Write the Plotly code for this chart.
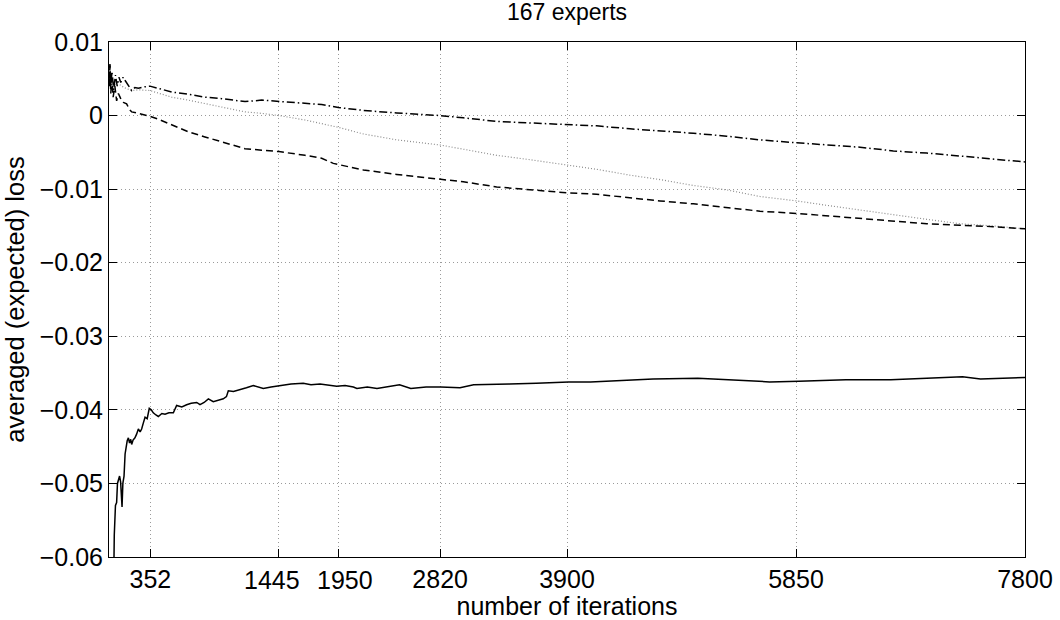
import plotly.graph_objects as go

# ---------------- data ----------------
solid_x = [38, 45, 55, 65, 72, 80, 90, 99, 105, 111, 118, 128, 137, 145, 155, 165, 175, 185, 193, 205,
           221, 235, 250, 265, 278, 292, 307, 325, 343, 360, 377, 400, 420, 450, 477, 510, 548, 576, 620,
           661, 700, 747, 775, 810, 846, 888, 930, 973, 1000, 1016, 1060, 1115, 1170, 1229, 1270, 1314,
           1380, 1456, 1550, 1654, 1720, 1797, 1870, 1939, 2010, 2081, 2111, 2200, 2282, 2380, 2474,
           2570, 2700, 2825, 2989, 3105, 3250, 3410, 3639, 3914, 4100, 4326, 4633, 5014, 5320, 5625,
           5874, 6275, 6657, 6924, 7268, 7421, 7600, 7800]
solid_y = [-0.066, -0.057, -0.053, -0.0526, -0.050, -0.0494, -0.0490, -0.0498, -0.051, -0.0532,
           -0.050, -0.049, -0.046, -0.0449, -0.0442, -0.0438, -0.0445, -0.0440, -0.0447, -0.0441,
           -0.0438, -0.0433, -0.0426, -0.0430, -0.0426, -0.0418, -0.0410, -0.0412, -0.0398, -0.0400,
           -0.0404, -0.0407, -0.0409, -0.0405, -0.0406, -0.0404, -0.0404, -0.0394, -0.0396, -0.0393,
           -0.0391, -0.0390, -0.0393, -0.0390, -0.0385, -0.0389, -0.0387, -0.0385, -0.0382, -0.0374,
           -0.0375, -0.0373, -0.0370, -0.0367, -0.0369, -0.0371, -0.0369, -0.0367, -0.0365, -0.0364,
           -0.0366, -0.0365, -0.0367, -0.0368, -0.0367, -0.0369, -0.0371, -0.0369, -0.0371, -0.0368,
           -0.0366, -0.0371, -0.0369, -0.0369, -0.0370, -0.0366, -0.0366, -0.0365, -0.0364, -0.0362,
           -0.0362, -0.0360, -0.0358, -0.0357, -0.0359, -0.0362, -0.0361, -0.0359, -0.0359, -0.0357,
           -0.0355, -0.0358, -0.0357, -0.0356]

dashdot_x = [2, 8, 15, 25, 40, 55, 70, 85, 100, 120, 136, 165, 193, 220, 250, 300, 349, 420, 534, 675,
             817, 960, 1158, 1300, 1447, 1669, 1811, 1953, 2166, 2450, 2733, 2820, 3017, 3301, 3585,
             3902, 4152, 4436, 4720, 4976, 5260, 5543, 5856, 6111, 6395, 6679, 6963, 7246, 7530, 7800]
dashdot_y = [0.0040, 0.0068, 0.0040, 0.0060, 0.0035, 0.0055, 0.0040, 0.0052, 0.0045, 0.0052, 0.0048,
             0.0041, 0.0034, 0.0038, 0.0037, 0.0039, 0.0040, 0.0037, 0.0032, 0.0029, 0.0025, 0.0023,
             0.0019, 0.0021, 0.0019, 0.0017, 0.0015, 0.0011, 0.0007, 0.00035, 0.0001, 0.0, -0.0003,
             -0.0008, -0.0010, -0.0012, -0.0014, -0.0018, -0.0021, -0.0024, -0.0028, -0.0033, -0.0037,
             -0.0040, -0.0043, -0.0048, -0.0051, -0.0055, -0.0059, -0.0063]

dashed_x = [2, 8, 15, 25, 35, 50, 65, 80, 94, 110, 122, 150, 175, 193, 250, 300, 349, 420, 534, 675,
            817, 960, 1158, 1300, 1447, 1669, 1811, 1910, 2166, 2450, 2820, 3017, 3301, 3585, 3902,
            4152, 4436, 4692, 4976, 5260, 5543, 5856, 6111, 6395, 6679, 6963, 7246, 7530, 7800]
dashed_y = [0.0050, 0.0070, 0.0030, 0.0050, 0.0025, 0.0040, 0.0020, 0.0030, 0.0025, 0.0019, 0.0018,
            0.0016, 0.0008, 0.0005, 0.0003, 0.0001, -0.0001, -0.0005, -0.0013, -0.0022, -0.0029,
            -0.0036, -0.0045, -0.0047, -0.0049, -0.0054, -0.0058, -0.0065, -0.0074, -0.0080, -0.0086,
            -0.0090, -0.0097, -0.0101, -0.0105, -0.0107, -0.0112, -0.0116, -0.0120, -0.0125, -0.0130,
            -0.0133, -0.0136, -0.0140, -0.0143, -0.0147, -0.0149, -0.0151, -0.0154]

dotted_x = [2, 10, 20, 40, 60, 90, 130, 193, 250, 349, 534, 675, 817, 960, 1158, 1300, 1447, 1669,
            1811, 1953, 2166, 2450, 2820, 3017, 3301, 3585, 3902, 4152, 4436, 4692, 4976, 5260, 5543,
            5856, 6111, 6395, 6679, 6963, 7246, 7530, 7800]
dotted_y = [0.0055, 0.0048, 0.0040, 0.0045, 0.0040, 0.0042, 0.0038, 0.0034, 0.0035, 0.0034, 0.0025,
            0.0021, 0.0016, 0.0012, 0.0005, 0.0003, 0.0, -0.0006, -0.0011, -0.0016, -0.0025, -0.0033,
            -0.0040, -0.0046, -0.0054, -0.0060, -0.0067, -0.0073, -0.0081, -0.0087, -0.0095, -0.0101,
            -0.0110, -0.0116, -0.0122, -0.0128, -0.0135, -0.0141, -0.0147, -0.0150, -0.0154]

x_ticks = [352, 1445, 1950, 2820, 3900, 5850, 7800]
# labels of the two crowded ticks are drawn as annotations nudged apart (as in the reference)
crowded_ticks = [1445, 1950]
crowded_nudge = [-7, 7]
x_tick_labels = ["" if v in crowded_ticks else str(v) for v in x_ticks]
y_ticks = [-0.06, -0.05, -0.04, -0.03, -0.02, -0.01, 0, 0.01]
y_tick_labels = ["\u22120.06", "\u22120.05", "\u22120.04", "\u22120.03", "\u22120.02", "\u22120.01", "0", "0.01"]

FONT = "Liberation Sans, Arial, Helvetica, sans-serif"
TICK_SIZE = 25

fig = go.Figure()
fig.add_trace(go.Scatter(x=dotted_x, y=dotted_y, mode="lines",
                         line=dict(color="#8c8c8c", width=1.2, dash="1px,2px"), showlegend=False))
fig.add_trace(go.Scatter(x=dashed_x, y=dashed_y, mode="lines",
                         line=dict(color="black", width=1.5, dash="7px,4px"), showlegend=False))
fig.add_trace(go.Scatter(x=dashdot_x, y=dashdot_y, mode="lines",
                         line=dict(color="black", width=1.5, dash="8px,3px,1.5px,3px"), showlegend=False))
fig.add_trace(go.Scatter(x=solid_x, y=solid_y, mode="lines",
                         line=dict(color="black", width=1.5), showlegend=False))

axis_common = dict(
    showline=True, linecolor="black", linewidth=1, mirror="ticks",
    ticks="inside", ticklen=8, tickcolor="black", tickwidth=1,
    showgrid=True, gridcolor="#9a9a9a", gridwidth=1, griddash="1px,3px",
    zeroline=False, tickangle=0, tickfont=dict(family=FONT, size=TICK_SIZE, color="black"),
)

fig.update_xaxes(range=[0, 7800], tickmode="array", tickvals=x_ticks, ticktext=x_tick_labels,
                 title=dict(text="number of iterations", font=dict(family=FONT, size=25, color="black"),
                            standoff=1),
                 **axis_common)
fig.update_yaxes(range=[-0.06, 0.01], tickmode="array", tickvals=y_ticks, ticktext=y_tick_labels,
                 title=dict(text="averaged (expected) loss", font=dict(family=FONT, size=25.5, color="black"),
                            standoff=7),
                 **axis_common)

for v, dx in zip(crowded_ticks, crowded_nudge):
    fig.add_annotation(x=v, xref="x", y=0, yref="paper", text=str(v), showarrow=False,
                       xanchor="center", yanchor="top", xshift=dx, yshift=-7,
                       font=dict(family=FONT, size=TICK_SIZE, color="black"))

fig.update_layout(
    width=1060, height=620,
    margin=dict(l=109, r=35, t=42, b=63, autoexpand=False),
    paper_bgcolor="white", plot_bgcolor="white",
    title=dict(text="167 experts", x=0.5, xref="paper", xanchor="center",
               y=1 - 12 / 620, yref="container", yanchor="middle",
               font=dict(family=FONT, size=23, color="black")),
    font=dict(family=FONT, color="black"),
)

fig.write_html("out.html", config={"displayModeBar": False},
               post_script="document.body.style.margin='0';document.body.style.overflow='hidden';")
